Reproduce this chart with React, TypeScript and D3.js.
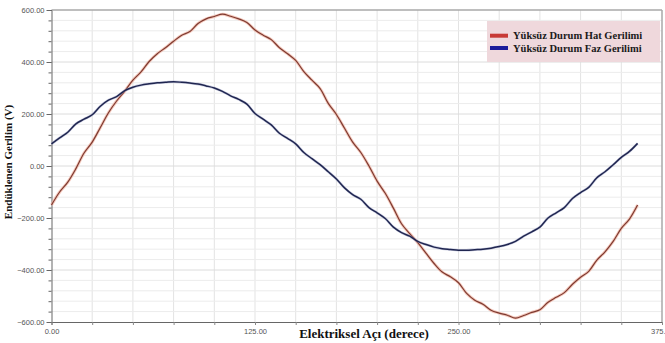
import { useRef, useEffect } from "react";
import * as d3 from "d3";

// electrical angle (degrees), 5° steps
const angles = d3.range(0, 361, 5);

// Yüksüz Durum Hat Gerilimi (V)
const hatGerilimi = [
  -150, -100, -62, -10, 50, 92, 148, 205, 250, 288, 330, 362, 402, 432, 455, 480, 503, 517, 548, 566,
  575, 584, 576, 566, 552, 523, 503, 486, 455, 432, 406, 363, 330, 298, 241, 198, 145, 92, 52, 0,
  -58, -105, -162, -222, -260, -295, -335, -375, -408, -426, -449, -490, -516, -532, -555, -566, -574, -585, -575, -563,
  -553, -524, -505, -487, -455, -428, -405, -362, -330, -290, -240, -204, -150,
];

// Yüksüz Durum Faz Gerilimi (V)
const fazGerilimi = [
  85, 108, 130, 162, 180, 197, 230, 253, 267, 290, 303, 311, 316, 320, 322, 324, 322, 319, 315, 308,
  300, 287, 270, 256, 238, 202, 180, 158, 126, 106, 85, 52, 28, 5, -22, -50, -84, -110, -128, -160,
  -180, -202, -235, -256, -270, -290, -302, -312, -318, -321, -324, -324, -322, -320, -316, -310, -302, -290, -270, -253,
  -235, -200, -180, -160, -125, -102, -82, -45, -22, 5, 33, 56, 87,
];

const seriesNames = ["Yüksüz Durum Hat Gerilimi", "Yüksüz Durum Faz Gerilimi"];
const legendColors = ["#c83a36", "#1c1c9a"];
const xTickLabels = [0, 125, 250, 375];
const yTickLabels = [600, 400, 200, 0, -200, -400, -600];

const serif = "'Liberation Serif', 'Times New Roman', serif";
const sans = "'Liberation Sans', Arial, sans-serif";

export default function App() {
  const svgRef = useRef<SVGSVGElement>(null);

  useEffect(() => {
    if (!svgRef.current) return;
    const width = 665;
    const height = 343;
    const margin = { top: 10, right: 3, bottom: 21, left: 51.5 };

    const svg = d3.select(svgRef.current);
    svg.selectAll("*").remove();
    svg.attr("width", width).attr("height", height);

    const innerWidth = width - margin.left - margin.right;
    const innerHeight = height - margin.top - margin.bottom;

    const x = d3.scaleLinear().domain([0, 375]).range([0, innerWidth]);
    const y = d3.scaleLinear().domain([-600, 600]).range([innerHeight, 0]);

    svg.append("rect").attr("width", width).attr("height", height).attr("fill", "#fff");

    const g = svg.append("g").attr("transform", `translate(${margin.left},${margin.top})`);

    // grid
    g.append("g")
      .selectAll("line")
      .data(d3.range(25, 375, 25))
      .join("line")
      .attr("x1", (d) => x(d))
      .attr("x2", (d) => x(d))
      .attr("y1", 0)
      .attr("y2", innerHeight)
      .attr("stroke", "#e3e3e3")
      .attr("stroke-width", 1);

    g.append("g")
      .selectAll("line")
      .data(d3.range(-560, 600, 40))
      .join("line")
      .attr("x1", 0)
      .attr("x2", innerWidth)
      .attr("y1", (d) => y(d))
      .attr("y2", (d) => y(d))
      .attr("stroke", (d) => (d % 200 === 0 ? "#dcdcdc" : "#ececec"))
      .attr("stroke-width", 1);

    // frame top / right
    g.append("line")
      .attr("x1", 0).attr("x2", innerWidth).attr("y1", 0).attr("y2", 0)
      .attr("stroke", "#a8a8a8").attr("stroke-width", 1.5);
    g.append("line")
      .attr("x1", innerWidth).attr("x2", innerWidth).attr("y1", 0).attr("y2", innerHeight)
      .attr("stroke", "#a8a8a8").attr("stroke-width", 1.5);

    // Y axis
    const yAxis = g.append("g")
      .call(d3.axisLeft(y).tickValues(d3.range(-600, 601, 40)).tickSize(3).tickFormat(() => ""));
    yAxis.select(".domain").attr("stroke", "#666");
    yAxis.selectAll(".tick line").attr("stroke", "#666");
    g.append("g")
      .call(d3.axisLeft(y).tickValues(yTickLabels).tickSize(5).tickPadding(2).tickFormat(d3.format(".2f")))
      .call((a) => a.select(".domain").remove())
      .call((a) => a.selectAll(".tick line").attr("stroke", "#666"))
      .selectAll("text")
      .style("font-family", sans)
      .style("font-size", "7.5px")
      .style("fill", "#555");

    // X axis
    const xAxis = g.append("g")
      .attr("transform", `translate(0,${innerHeight})`)
      .call(
        d3.axisBottom(x)
          .tickValues(d3.range(0, 376, 25))
          .tickSize(3)
          .tickPadding(4)
          .tickFormat((d) => (xTickLabels.includes(+d) ? d3.format(".2f")(+d) : ""))
      );
    xAxis.select(".domain").attr("stroke", "#666");
    xAxis.selectAll(".tick line").attr("stroke", "#888");
    xAxis.selectAll("text")
      .style("font-family", sans)
      .style("font-size", "7.5px")
      .style("fill", "#555");

    // lines
    const line = d3
      .line<number>()
      .x((_, i) => x(angles[i]))
      .y((d) => y(d))
      .curve(d3.curveCatmullRom.alpha(0.5));

    g.append("path").datum(hatGerilimi).attr("fill", "none")
      .attr("stroke", "#f0b0a0").attr("stroke-width", 3).attr("opacity", 0.7).attr("d", line);
    g.append("path").datum(hatGerilimi).attr("fill", "none")
      .attr("stroke", "#7e3a30").attr("stroke-width", 1.2).attr("d", line);
    g.append("path").datum(fazGerilimi).attr("fill", "none")
      .attr("stroke", "#9aa0c8").attr("stroke-width", 2.6).attr("opacity", 0.5).attr("d", line);
    g.append("path").datum(fazGerilimi).attr("fill", "none")
      .attr("stroke", "#202650").attr("stroke-width", 1.5).attr("d", line);

    // legend
    const lg = svg.append("g").attr("transform", "translate(487,21)");
    lg.append("rect").attr("width", 173).attr("height", 41).attr("fill", "#efd8dc");
    seriesNames.forEach((name, i) => {
      const cy = 14.7 + i * 12.3;
      lg.append("line")
        .attr("x1", 3).attr("x2", 21).attr("y1", cy).attr("y2", cy)
        .attr("stroke", legendColors[i]).attr("stroke-width", 4);
      lg.append("text")
        .attr("x", 26).attr("y", cy).attr("dy", "0.35em")
        .style("font-family", serif)
        .style("font-size", "10.5px")
        .style("font-weight", "bold")
        .style("fill", "#1a1a1a")
        .text(name);
    });

    // axis titles
    svg.append("text")
      .attr("transform", "translate(12,162) rotate(-90)")
      .attr("text-anchor", "middle")
      .style("font-family", serif)
      .style("font-size", "11px")
      .style("font-weight", "bold")
      .style("fill", "#111")
      .text("Endüklenen Gerilim (V)");
    svg.append("text")
      .attr("x", 364).attr("y", 338)
      .attr("text-anchor", "middle")
      .style("font-family", serif)
      .style("font-size", "13px")
      .style("font-weight", "bold")
      .style("fill", "#111")
      .text("Elektriksel Açı (derece)");
  }, []);

  return <svg ref={svgRef} style={{ position: "absolute", left: 0, top: 0 }} />;
}
